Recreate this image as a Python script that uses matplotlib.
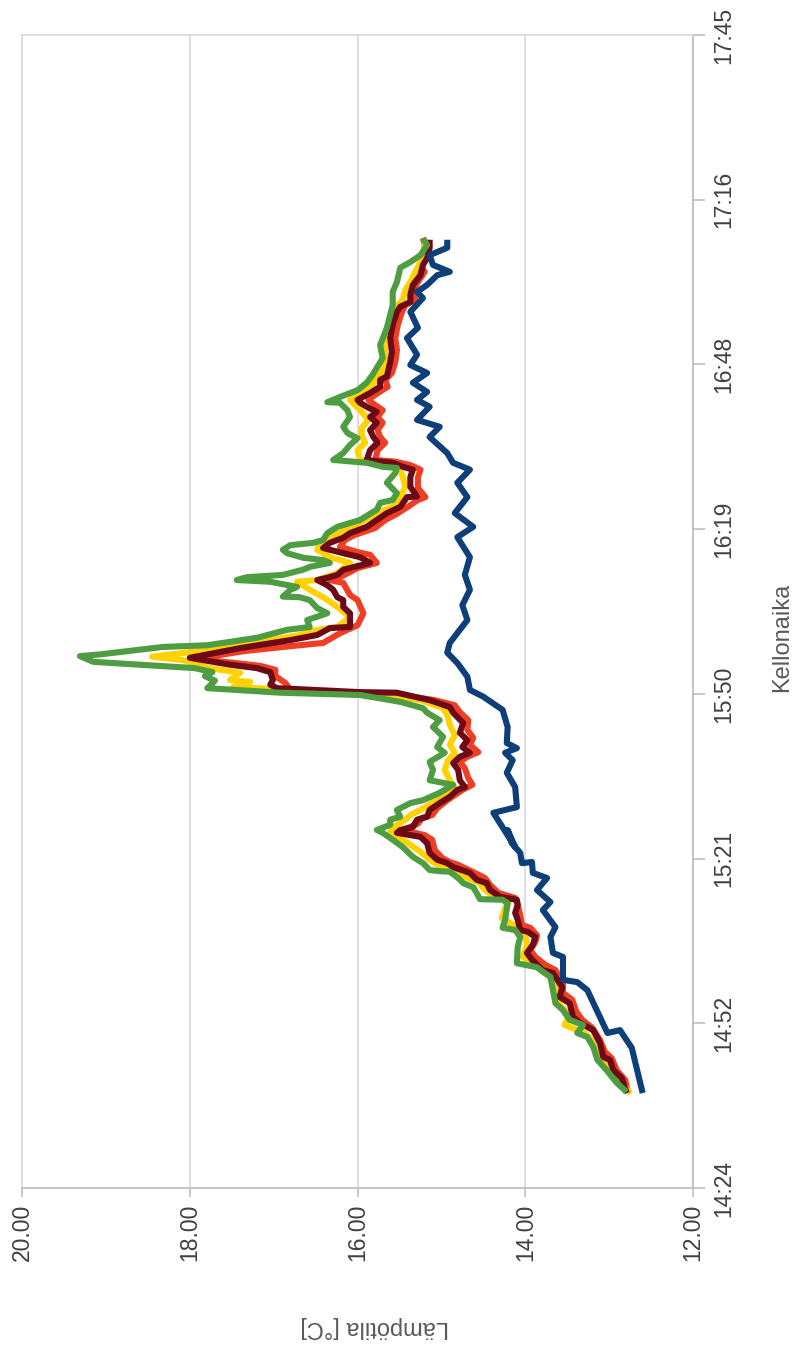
import matplotlib
matplotlib.use("Agg")
import matplotlib.pyplot as plt

plt.rcParams['font.family'] = ['Liberation Sans', 'DejaVu Sans']

# Measurement times are given in minutes after 14:00, temperatures in °C.
aika_keltainen = [40.5, 42.9, 45.0, 46.7, 49.4, 51.1, 52.5, 54.3, 56.0, 58.6, 61.2, 62.5, 64.4, 66.5,
                  68.2, 69.5, 71.2, 73.0, 74.4, 74.9, 76.1, 77.5, 78.4, 79.6, 80.3, 81.4, 82.8, 84.0,
                  85.2, 86.3, 87.3, 88.4, 89.2, 90.1, 91.3, 92.7, 94.0, 95.3, 97.1, 98.8, 100.1, 101.5,
                  103.2, 105.0, 106.7, 107.9, 109.3, 110.2, 110.7, 111.3, 111.6, 112.5, 112.8, 114.1,
                  114.9, 116.3, 116.9, 117.9, 119.5, 120.7, 121.6, 122.1, 123.8, 125.6, 127.3, 128.6,
                  130.0, 130.3, 131.5, 133.3, 134.3, 135.6, 136.8, 137.8, 139.1, 140.8, 142.2, 143.4,
                  144.8, 146.6, 148.3, 149.6, 150.4, 151.3, 153.0, 154.3, 155.7, 156.9, 158.3, 159.7,
                  160.9, 161.8, 163.0, 164.1, 165.3, 166.7, 168.8, 171.4, 174.0, 176.1, 177.9, 179.3,
                  181.0, 182.4, 184.2, 185.9, 187.7, 189.8]
keltainen = [12.75, 12.87, 12.97, 13.07, 13.17, 13.29, 13.53, 13.47, 13.59, 13.62, 13.70, 13.82, 14.03,
             13.98, 14.00, 14.09, 14.28, 14.24, 14.18, 14.36, 14.48, 14.56, 14.72, 14.90, 15.02, 15.14,
             15.25, 15.37, 15.49, 15.61, 15.55, 15.43, 15.37, 15.25, 15.11, 14.93, 14.84, 14.90, 14.96,
             14.92, 14.84, 14.90, 14.84, 14.90, 14.93, 14.98, 15.25, 15.73, 16.33, 17.08, 17.48, 17.28,
             17.52, 17.40, 17.76, 18.08, 18.45, 17.88, 17.16, 16.69, 16.48, 16.24, 16.09, 16.24, 16.41,
             16.57, 16.72, 16.48, 16.24, 16.09, 16.33, 16.48, 16.45, 16.33, 16.13, 15.91, 15.73, 15.55,
             15.49, 15.43, 15.46, 15.49, 15.67, 15.97, 16.00, 15.91, 15.95, 15.95, 15.87, 15.95, 16.03,
             16.09, 15.95, 15.83, 15.79, 15.71, 15.67, 15.67, 15.64, 15.59, 15.55, 15.46, 15.43, 15.37,
             15.31, 15.25, 15.20, 15.20]

aika_punainen = [40.5, 42.9, 44.6, 46.7, 47.8, 49.9, 52.0, 53.4, 54.8, 56.9, 58.1, 59.8, 62.1, 63.0,
                 64.4, 65.6, 67.0, 68.2, 69.5, 70.0, 71.7, 73.5, 74.7, 75.6, 77.0, 78.2, 79.3, 80.5,
                 81.0, 81.7, 83.1, 84.9, 85.7, 86.6, 87.7, 88.7, 89.2, 90.4, 91.8, 92.7, 93.6, 94.5,
                 95.7, 97.4, 98.5, 99.4, 100.2, 101.5, 102.7, 104.1, 105.8, 107.2, 108.4, 109.3, 110.2,
                 110.4, 111.1, 112.3, 113.5, 114.6, 115.3, 115.8, 116.5, 117.9, 118.9, 119.3, 121.0,
                 122.4, 124.5, 126.8, 127.7, 129.8, 130.3, 130.8, 131.7, 132.4, 133.3, 134.7, 135.2,
                 136.1, 137.3, 138.2, 139.4, 140.8, 141.7, 143.1, 144.3, 144.8, 146.4, 148.2, 149.6,
                 150.4, 151.0, 151.3, 153.0, 154.3, 155.3, 156.5, 157.8, 158.8, 160.0, 160.9, 161.8,
                 163.0, 164.1, 165.3, 166.5, 168.4, 170.5, 172.6, 174.9, 177.2, 178.4, 179.3, 181.0,
                 182.4, 184.2, 185.4, 187.1, 188.9, 190.1]
punainen = [12.77, 12.81, 12.91, 12.97, 13.05, 13.11, 13.20, 13.32, 13.39, 13.44, 13.55, 13.55, 13.64,
            13.76, 13.88, 13.94, 13.88, 13.86, 13.94, 14.04, 14.06, 14.09, 14.12, 14.32, 14.42, 14.48,
            14.63, 14.80, 14.90, 14.99, 15.08, 15.11, 15.20, 15.46, 15.28, 15.23, 15.11, 15.05, 14.93,
            14.84, 14.75, 14.63, 14.68, 14.72, 14.78, 14.69, 14.56, 14.66, 14.62, 14.69, 14.68, 14.78,
            14.84, 15.08, 15.49, 15.97, 16.80, 16.86, 16.98, 16.98, 17.16, 17.46, 17.94, 17.34, 16.69,
            16.41, 16.21, 16.00, 15.93, 16.00, 16.09, 16.17, 16.33, 16.21, 16.09, 16.00, 15.77, 15.85,
            16.00, 16.21, 16.15, 16.03, 15.79, 15.67, 15.55, 15.40, 15.28, 15.19, 15.28, 15.28, 15.25,
            15.37, 15.55, 15.79, 15.76, 15.67, 15.73, 15.76, 15.70, 15.76, 15.70, 15.79, 15.87, 15.76,
            15.64, 15.67, 15.59, 15.55, 15.53, 15.55, 15.52, 15.47, 15.43, 15.31, 15.34, 15.28, 15.20,
            15.25, 15.20, 15.20, 15.22]

aika_viininpunainen = [40.6, 43.2, 44.6, 46.4, 46.9, 49.4, 51.6, 52.9, 53.9, 56.3, 57.4, 59.1, 61.6,
                       62.1, 63.9, 65.1, 66.5, 67.9, 68.8, 69.1, 70.9, 72.1, 73.5, 74.4, 74.9, 76.1,
                       77.3, 77.9, 79.1, 80.1, 80.8, 81.4, 82.6, 84.3, 85.4, 86.1, 86.6, 87.1, 88.4,
                       88.9, 90.1, 91.3, 92.4, 93.6, 94.1, 95.3, 97.1, 98.3, 99.4, 100.1, 101.1, 102.3,
                       103.6, 105.3, 107.1, 108.1, 109.3, 110.6, 110.7, 111.4, 112.0, 112.8, 114.2,
                       114.9, 115.5, 116.7, 118.4, 119.8, 120.7, 121.9, 122.1, 124.5, 125.6, 126.8,
                       127.3, 128.6, 129.4, 130.3, 130.7, 131.2, 132.1, 133.3, 134.3, 135.0, 135.9,
                       136.8, 137.7, 138.5, 139.6, 140.8, 142.0, 143.1, 144.8, 144.9, 146.6, 148.3,
                       149.6, 150.1, 150.8, 151.0, 151.3, 153.0, 154.3, 155.3, 156.5, 157.8, 158.8,
                       159.7, 160.6, 161.3, 161.8, 163.0, 164.1, 165.3, 165.9, 168.4, 170.2, 172.6,
                       174.9, 177.2, 178.1, 178.9, 180.2, 181.9, 183.6, 185.4, 186.6, 188.4, 189.8]
viininpunainen = [12.79, 12.85, 12.95, 12.99, 13.07, 13.11, 13.19, 13.35, 13.43, 13.47, 13.59, 13.56,
                  13.67, 13.79, 13.92, 13.98, 13.91, 13.88, 13.97, 14.06, 14.09, 14.12, 14.09, 14.10,
                  14.30, 14.42, 14.46, 14.58, 14.66, 14.86, 14.93, 15.05, 15.14, 15.17, 15.25, 15.53,
                  15.49, 15.34, 15.29, 15.17, 15.14, 15.02, 14.90, 14.81, 14.72, 14.78, 14.80, 14.86,
                  14.78, 14.66, 14.75, 14.69, 14.78, 14.74, 14.86, 14.90, 15.14, 15.53, 15.97, 16.96,
                  17.04, 17.01, 17.04, 17.20, 17.52, 18.00, 17.40, 16.80, 16.48, 16.33, 16.09, 16.09,
                  16.17, 16.17, 16.24, 16.29, 16.36, 16.48, 16.36, 16.24, 16.17, 15.85, 15.97, 16.17,
                  16.41, 16.33, 16.17, 16.09, 15.89, 15.77, 15.65, 15.49, 15.41, 15.29, 15.37, 15.37,
                  15.34, 15.46, 15.58, 15.73, 15.89, 15.85, 15.76, 15.81, 15.85, 15.77, 15.85, 15.77,
                  15.89, 15.97, 16.00, 15.85, 15.73, 15.73, 15.65, 15.61, 15.59, 15.61, 15.58, 15.53,
                  15.49, 15.37, 15.37, 15.34, 15.25, 15.22, 15.17, 15.14, 15.14]

aika_vihrea = [40.8, 42.4, 44.6, 46.4, 48.7, 50.4, 51.1, 52.5, 53.4, 55.1, 56.3, 58.6, 60.9, 61.8, 62.6,
               63.3, 66.1, 67.9, 69.1, 69.5, 70.9, 73.8, 74.4, 74.5, 75.6, 76.6, 77.3, 78.2, 79.3,
               79.4, 79.6, 80.8, 81.9, 83.6, 84.9, 86.1, 86.6, 87.5, 88.4, 88.9, 90.1, 91.3, 91.8,
               93.1, 94.5, 95.3, 97.1, 98.5, 100.1, 101.1, 102.9, 104.6, 105.8, 107.1, 107.9, 109.0,
               110.2, 110.6, 111.4, 112.7, 113.5, 114.2, 114.9, 116.0, 117.0, 117.3, 118.6, 118.9,
               120.2, 121.6, 122.1, 123.3, 124.5, 125.4, 126.8, 127.3, 127.4, 128.6, 129.1, 130.0,
               130.3, 130.8, 131.2, 132.1, 132.6, 133.3, 133.8, 134.2, 135.0, 135.6, 136.4, 136.8,
               137.3, 138.5, 139.6, 140.8, 142.6, 143.8, 144.3, 145.5, 147.3, 149.0, 149.9, 150.1,
               150.8, 151.3, 152.5, 153.9, 155.1, 156.0, 157.1, 158.8, 160.0, 161.3, 161.4, 162.3,
               163.5, 164.8, 166.2, 169.1, 171.4, 174.4, 176.7, 178.4, 180.7, 182.4, 184.9, 185.9,
               187.1, 188.9, 190.1]
vihrea = [12.79, 12.91, 13.03, 13.14, 13.19, 13.26, 13.38, 13.31, 13.47, 13.55, 13.64, 13.67, 13.70,
          13.79, 13.86, 14.10, 14.09, 14.06, 14.12, 14.27, 14.24, 14.21, 14.27, 14.54, 14.58, 14.62,
          14.74, 14.80, 14.90, 15.02, 15.14, 15.22, 15.34, 15.46, 15.58, 15.70, 15.77, 15.61, 15.61,
          15.49, 15.53, 15.37, 15.22, 15.02, 14.86, 15.14, 15.10, 15.14, 14.96, 15.05, 14.98, 15.10,
          15.02, 15.17, 15.22, 15.49, 15.97, 16.92, 17.79, 17.70, 17.82, 17.73, 17.94, 19.15, 19.31,
          19.07, 18.32, 17.79, 17.20, 16.84, 16.57, 16.60, 16.36, 16.48, 16.57, 16.69, 16.89, 16.80,
          16.72, 17.04, 17.44, 17.32, 16.89, 16.65, 16.57, 16.33, 16.41, 16.65, 16.84, 16.89, 16.80,
          16.53, 16.41, 16.36, 16.24, 15.97, 15.77, 15.73, 15.58, 15.53, 15.65, 15.55, 15.53, 15.70,
          15.89, 16.29, 16.17, 16.09, 16.00, 16.12, 16.17, 16.09, 16.12, 16.21, 16.36, 16.21, 16.00,
          15.89, 15.82, 15.70, 15.73, 15.65, 15.61, 15.58, 15.58, 15.53, 15.49, 15.37, 15.25, 15.17,
          15.22]

aika_sininen = [40.6, 48.5, 51.6, 51.1, 58.6, 60.0, 60.4, 64.4, 65.1, 67.9, 69.6, 72.6, 74.0, 76.1,
                78.2, 79.1, 81.0, 80.8, 82.6, 84.3, 86.6, 83.6, 89.6, 90.6, 94.1, 96.6, 98.8, 100.1,
                100.9, 101.8, 104.6, 107.6, 109.9, 111.1, 113.4, 115.8, 117.6, 119.3, 121.6, 123.3,
                125.9, 128.6, 131.2, 134.3, 137.8, 139.6, 142.0, 144.8, 147.3, 149.6, 150.8, 152.5,
                155.3, 157.1, 158.3, 160.6, 161.8, 163.2, 164.8, 166.5, 167.9, 169.7, 172.6, 174.4,
                177.2, 179.6, 180.7, 181.9, 183.6, 184.2, 185.4, 187.1, 188.4, 189.8]
sininen = [12.60, 12.73, 12.87, 13.02, 13.26, 13.38, 13.55, 13.55, 13.67, 13.70, 13.64, 13.79, 13.70,
           13.86, 13.74, 13.91, 13.92, 14.04, 14.06, 14.16, 14.21, 14.12, 14.38, 14.10, 14.12, 14.22,
           14.15, 14.24, 14.10, 14.22, 14.21, 14.27, 14.50, 14.66, 14.69, 14.81, 14.93, 14.90, 14.78,
           14.69, 14.75, 14.66, 14.72, 14.66, 14.81, 14.62, 14.84, 14.69, 14.81, 14.66, 14.86, 14.93,
           15.14, 15.02, 15.29, 15.14, 15.29, 15.17, 15.34, 15.17, 15.37, 15.29, 15.41, 15.28, 15.37,
           15.22, 15.29, 15.17, 15.05, 14.90, 15.10, 15.14, 14.93, 14.93]

lampotila_tikit = [20, 18, 16, 14, 12]
aika_tikit = [0.60, 0.62, 0.64, 0.66, 0.68, 0.70, 0.72, 0.74]
aika_tikkitekstit = ["14:24", "14:52", "15:21", "15:50", "16:19", "16:48", "17:16", "17:45"]

sarjat = [
    (aika_punainen, punainen, "#EF3E23"),
    (aika_keltainen, keltainen, "#FFD200"),
    (aika_viininpunainen, viininpunainen, "#6E0A16"),
    (aika_vihrea, vihrea, "#4E9D43"),
    (aika_sininen, sininen, "#0F3F78"),
]


def vuorokautena(minuutit):
    # minutes after 14:00 -> fraction of a day
    return [(14 * 60 + m) / 1440.0 for m in minuutit]


W, H = 798, 1353
fig = plt.figure(figsize=(W / 100, H / 100), dpi=100)
ax = fig.add_axes([22 / W, 1 - 1188 / H, (693 - 22) / W, (1188 - 35) / H])

for aika, arvot, vari in sarjat:
    ax.plot(arvot, vuorokautena(aika), color=vari, lw=4.4,
            solid_joinstyle='round', solid_capstyle='butt', zorder=3)

ax.set_xlim(20, 12)
ax.set_ylim(aika_tikit[0], aika_tikit[-1])

ax.set_xticks(lampotila_tikit)
ax.set_xticklabels([f"{v:.2f}" for v in lampotila_tikit], rotation=90)
ax.grid(axis='x', color='#d9d9d9', lw=1.2, zorder=0)
ax.grid(axis='y', visible=False)

ax.yaxis.tick_right()
ax.set_yticks(aika_tikit)
ax.set_yticklabels(aika_tikkitekstit, rotation=90, va='center', ha='left')

ax.tick_params(axis='x', direction='out', length=6.5, width=1.2, color='#bfbfbf',
               pad=5, labelsize=16.5, labelcolor='#404040')
ax.tick_params(axis='y', direction='out', length=8.5, width=1.2, color='#bfbfbf',
               pad=5, labelsize=16.5, labelcolor='#404040')

for puoli in ['bottom', 'right']:
    ax.spines[puoli].set_color('#bfbfbf')
    ax.spines[puoli].set_linewidth(1.3)
for puoli in ['top', 'left']:
    ax.spines[puoli].set_color('#d9d9d9')
    ax.spines[puoli].set_linewidth(1.2)

fig.text(782 / W, 1 - 637 / H, "Kellonaika", rotation=90, ha='center', va='center',
         fontsize=17, color='#595959')
fig.text(375 / W, 1 - 1327 / H, "Lämpötila [°C]", rotation=180, ha='center', va='center',
         fontsize=17, color='#595959')

fig.savefig("out.png", dpi=100)
